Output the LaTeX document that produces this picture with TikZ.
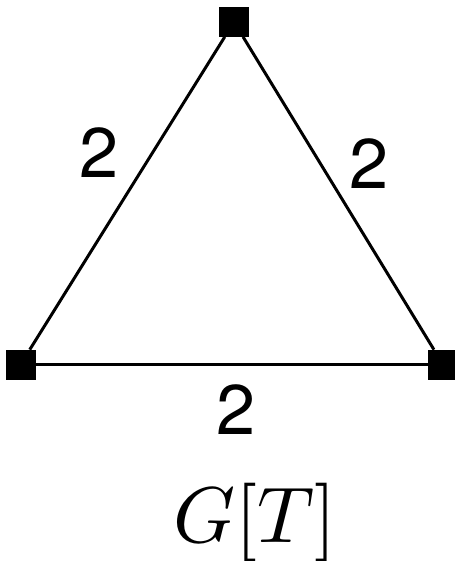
\documentclass[tikz,border=0pt]{standalone}
\usepackage{fontspec}
\usepackage{graphicx}
\usepackage{tikz}
\newfontfamily\wtfont{TeX Gyre Heros}
\tikzset{
  vtx/.style={draw=black, fill=black, rectangle, inner sep=0pt, minimum size=0.58cm},
  wtlabel/.style={inner sep=0pt, font=\wtfont\fontsize{40}{48}\selectfont},
  edgeline/.style={line width=1.7pt}
}
\begin{document}
\begin{tikzpicture}[x=0.02cm,y=-0.02cm]
  \useasboundingbox (0,0) rectangle (455,561);
  % vertices
  \node[vtx] (top) at (234,22) {};
  \node[vtx] (left) at (20.5,364.5) {};
  \node[vtx] (right) at (443,364.5) {};
  % edges
  \draw[edgeline] (top) -- (left);
  \draw[edgeline] (top) -- (right);
  \draw[edgeline] (left) -- (right);
  % weights
  \node[wtlabel] (wleft) at (99.5,152.5) {2};
  \node[wtlabel] (wright) at (369,164) {2};
  \node[wtlabel] (wbottom) at (236,410) {2};
  % caption
  \node[inner sep=0pt, anchor=base] (cap) at (255,542)
    {\scalebox{4.5}{$G[T]$}};
\end{tikzpicture}
\end{document}
